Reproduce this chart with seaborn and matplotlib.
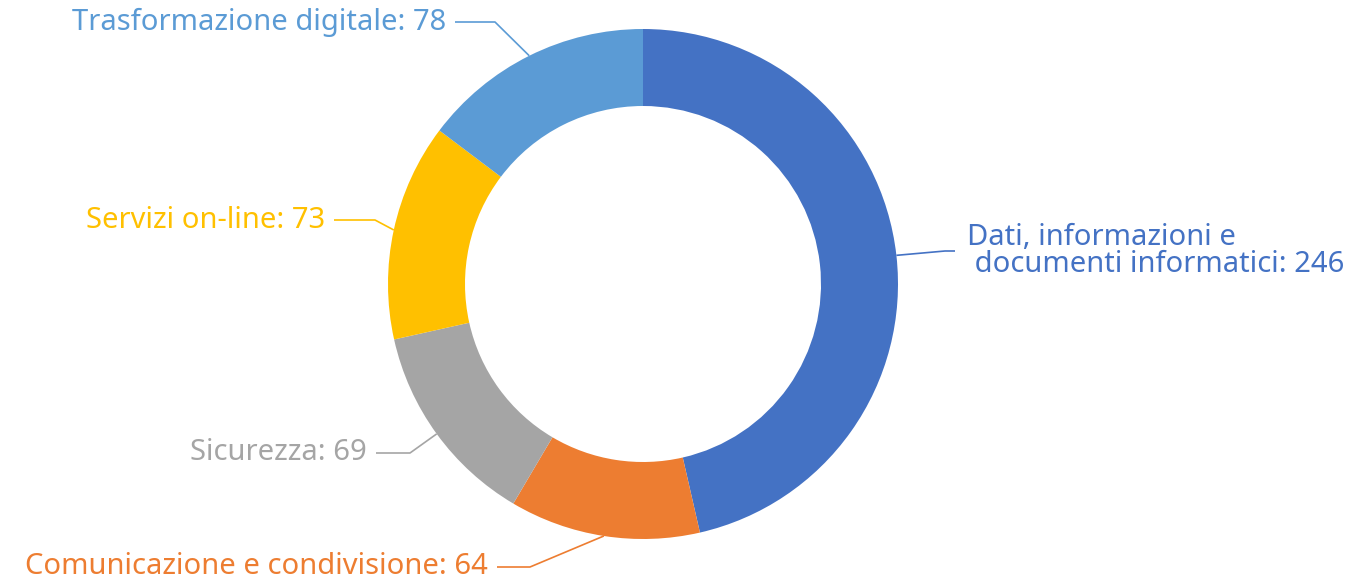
import numpy as np
import matplotlib
matplotlib.use("Agg")
import matplotlib.pyplot as plt
import seaborn as sns

# Data
categories = ["Dati, informazioni e\n documenti informatici", "Comunicazione e condivisione",
              "Sicurezza", "Servizi on-line", "Trasformazione digitale"]
values = [246, 64, 69, 73, 78]
colors = ["#4472C4", "#ED7D31", "#A5A5A5", "#FFC000", "#5B9BD5"]

sns.set_theme(style="white")
plt.rcParams['font.family'] = ['Noto Sans', 'DejaVu Sans']

W, H = 1362, 583
fig = plt.figure(figsize=(W / 100, H / 100), dpi=100)
ax = fig.add_axes([0, 0, 1, 1])

# pixel-like coords (y up)
cx, cy = 643, H - 284
r_out, ring = 255, 77

ax.pie(values, colors=colors, startangle=90, counterclock=False,
       radius=r_out, center=(cx, cy),
       wedgeprops=dict(width=ring, edgecolor="none", linewidth=0))
ax.set_xlim(0, W)
ax.set_ylim(0, H)
ax.set_aspect("equal")
ax.axis("off")

# label layout: (elbow x, elbow y, line end x, text y, align) in pixels from top
layout = [
    (945, 251, 955, 251, "left"),
    (530, 567, 497, 567, "right"),
    (410, 453, 376, 453, "right"),
    (375, 220, 334, 220, "right"),
    (495, 22, 455, 22, "right"),
]

total = sum(values)
start = 90.0
for cat, val, col, (ex, ey, tx, ty, al) in zip(categories, values, colors, layout):
    sweep = val / total * 360
    mid = np.deg2rad(start - sweep / 2)
    start -= sweep
    px = cx + r_out * np.cos(mid)
    py = cy + r_out * np.sin(mid)
    ax.plot([px, ex, tx], [py, H - ey, H - ty],
            color=col, lw=1.2, solid_capstyle="butt")
    ax.text(tx + (12 if al == "left" else -9), H - ty, f"{cat}: {val}",
            color=col, ha=al, va="center", fontsize=21, linespacing=0.9)

fig.savefig("out.png", dpi=100)
